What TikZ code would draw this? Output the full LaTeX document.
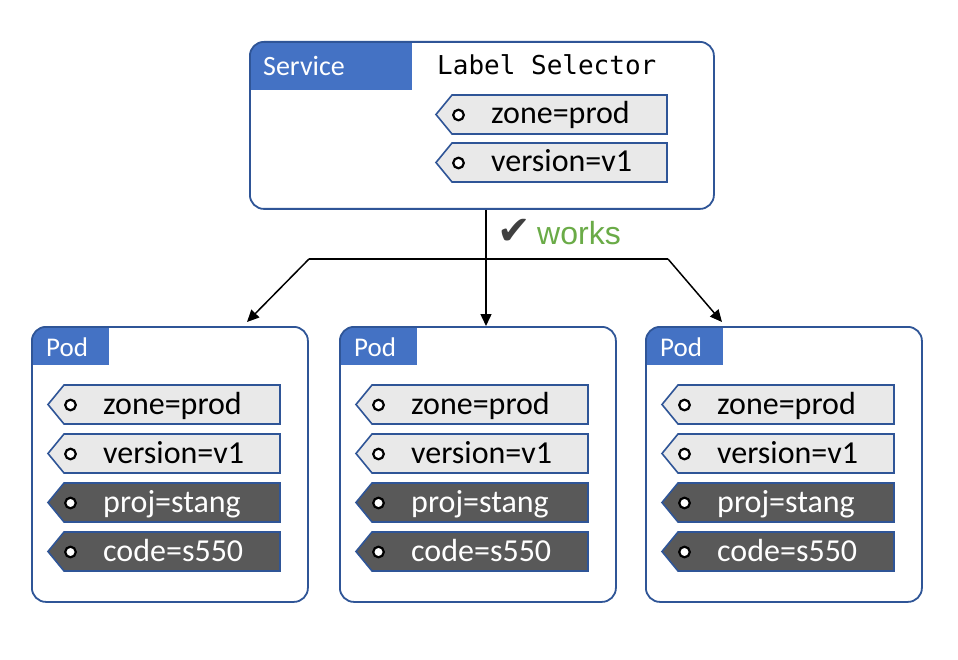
\documentclass[tikz,border=0pt]{standalone}
\usepackage{fontspec}
\setmainfont{Carlito}
\newfontfamily\monofont{DejaVu Sans Mono}
\newfontfamily\worksfont{Liberation Sans}
\newfontfamily\symfont{DejaVu Sans}
\usetikzlibrary{arrows.meta,calc}
\definecolor{headblue}{HTML}{4472C4}
\definecolor{boxblue}{HTML}{2F5597}
\definecolor{taglight}{HTML}{E9E9E9}
\definecolor{tagdark}{HTML}{595959}
\definecolor{worksgreen}{HTML}{6AAB47}
\definecolor{checkgray}{HTML}{404040}
\tikzset{
  frame/.style={draw=boxblue, line width=1.8pt, rounded corners=14pt, fill=white, inner sep=0pt, anchor=north west},
  svcbox/.style={frame, minimum width=464pt, minimum height=167pt,
    path picture={\fill[headblue, sharp corners] (path picture bounding box.north west) rectangle ++(162pt,-48pt);}},
  podbox/.style={frame, minimum width=276pt, minimum height=275pt,
    path picture={\fill[headblue, sharp corners] (path picture bounding box.north west) rectangle ++(77pt,-38pt);}},
  headtext/.style={text=white, inner sep=0pt, anchor=base west},
  lighttag/.style={draw=boxblue, line width=1.6pt, fill=taglight},
  darktag/.style={draw=boxblue, line width=1.6pt, fill=tagdark},
  lighttagtext/.style={text=black},
  darktagtext/.style={text=white},
  hole/.style={draw=black, line width=2.2pt, fill=white},
  tagtext/.style={inner sep=0pt, anchor=base west, font=\fontsize{32}{38}\selectfont},
  conn/.style={draw=black, line width=1.5pt},
  arr/.style={conn, -{Triangle[length=12pt,width=11pt]}},
}
\newcommand\labtag[6]{%
  \draw[#5] (#2,#3+19.5) -- (#2+16,#3) -- (#4,#3) -- (#4,#3+39) -- (#2+16,#3+39) -- cycle;
  \draw[hole] (#2+22.5,#3+20) circle[radius=5.3pt];
  \node[tagtext, #5text] (#1) at (#2+55,#3+29) {#6};
}
\newcommand\pod[2]{% #1 name, #2 left x
  \node[podbox] (#1) at (#2,326) {};
  \node[headtext, font=\fontsize{27}{32}\selectfont] (#1h) at (#2+15,356) {Pod};
  \labtag{#1a}{#2+17}{385}{#2+249}{lighttag}{zone=prod}
  \labtag{#1b}{#2+17}{434}{#2+249}{lighttag}{version=v1}
  \labtag{#1c}{#2+17}{483}{#2+249}{darktag}{proj=stang}
  \labtag{#1d}{#2+17}{532}{#2+249}{darktag}{code=s550}
}
\begin{document}
\begin{tikzpicture}[x=1pt,y=-1pt]
\useasboundingbox[fill=white] (0,0) rectangle (958,660);
% service
\node[svcbox] (svc) at (249,41) {};
\node[headtext, font=\fontsize{28}{33}\selectfont] (svch) at (263,76) {Service};
\node[inner sep=0pt, anchor=base west, font=\monofont\fontsize{26}{31}\selectfont] (sel) at (437,75) {Label Selector};
\labtag{sa}{436}{95}{667}{lighttag}{zone=prod}
\labtag{sb}{436}{143}{667}{lighttag}{version=v1}
% pods
\pod{pa}{31}
\pod{pb}{339}
\pod{pc}{645}
% connectors
\coordinate (split) at (486,259);
\coordinate (sl) at (309,259);
\coordinate (sr) at (668,259);
\draw[arr] (svc.south -| split) -- (pb.north -| split);
\draw[conn] (sl) -- (sr);
\draw[arr] (sl) -- ($(pa.north west)+(216,-4)$);
\draw[arr] (sr) -- ($(pc.north west)+(77,-4)$);
% works label
\node[inner sep=0pt, anchor=base west, text=checkgray, font=\symfont\fontsize{40}{46}\selectfont] (chk) at (497,245) {✔};
\node[inner sep=0pt, anchor=base west, text=worksgreen, font=\worksfont\fontsize{32}{38}\selectfont] (works) at (537,245) {works};
\end{tikzpicture}
\end{document}
